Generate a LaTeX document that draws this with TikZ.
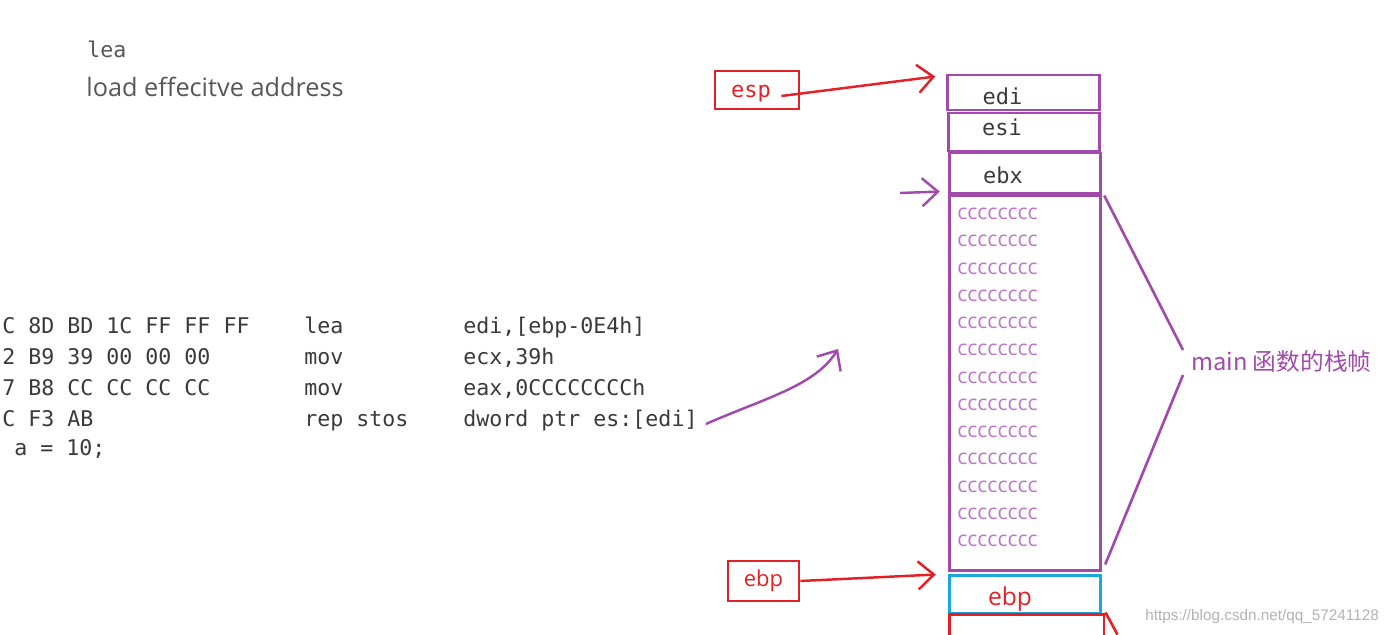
\documentclass[tikz,border=0pt]{standalone}
\usepackage{fontspec}
\setmainfont{Open Sans}
\setmonofont{DejaVu Sans Mono}
\newfontfamily\cjkfont{Noto Sans CJK SC}
\newfontfamily\markfont{Liberation Sans}
\usetikzlibrary{arrows.meta,calc}

\definecolor{stackpurple}{RGB}{162,74,172}
\definecolor{fillpurple}{RGB}{188,120,200}
\definecolor{pointred}{RGB}{226,32,38}
\definecolor{framecyan}{RGB}{28,166,222}
\definecolor{codegray}{RGB}{58,58,58}

\begin{document}
\begin{tikzpicture}[x=0.02cm,y=-0.02cm,
  code/.style={font=\ttfamily\fontsize{12.3}{14}\selectfont,text=codegray,anchor=west,inner sep=0pt,text height=1.6ex,text depth=0.4ex},
  cell/.style={draw=stackpurple,line width=1.7pt,minimum width=3.03cm,inner sep=0pt,font=\ttfamily\fontsize{12.5}{14}\selectfont,text=codegray,text depth=2pt},
  regbox/.style={draw=pointred,line width=1.5pt,inner sep=0pt,text=pointred},
  handarrow/.style={-{Straight Barb[length=9pt,width=16pt]},line width=1.4pt}]
  \clip (0,0) rectangle (1397,635);
  % notes at the top
  \node[code,text=codegray!85] (mnem) at (87,52) {lea};
  \node[anchor=west,inner sep=0pt,text=codegray!85,font=\fontsize{14.4}{16}\selectfont] (expl) at (86,87) {load effecitve address};
  % disassembly
  \foreach \hex/\mn/\op [count=\i] in {{C 8D BD 1C FF FF FF}/lea/{edi,[ebp-0E4h]},
      {2 B9 39 00 00 00}/mov/{ecx,39h},
      {7 B8 CC CC CC CC}/mov/{eax,0CCCCCCCCh},
      {C F3 AB}/{rep stos}/{dword ptr es:[edi]}} {
    \node[code] (hex\i) at (2,{297+31*\i}) {\hex};
    \node[code] (mn\i) at (304,{297+31*\i}) {\mn};
    \node[code] (op\i) at (463,{297+31*\i}) {\op};
  }
  \node[code] (src) at (14,450) {a = 10;};
  % stack
  \node[cell,minimum height=0.70cm,text height=15.2pt] (edi) at (1023.5,92.5) {edi\kern0.84cm};
  \node[cell,minimum height=0.76cm,text height=5.6pt] (esi) at (1024,132) {esi\kern0.88cm};
  \node[cell,minimum height=0.80cm,text height=13.6pt] (ebx) at (1025,173) {ebx\kern0.88cm};
  \node[cell,minimum height=7.52cm] (frame) at (1025,383) {};
  \foreach \i in {0,...,12}
    \node[anchor=west,inner sep=0pt,text=fillpurple,font=\fontsize{12}{14}\selectfont] at (957,{214+27.25*\i}) {cccccccc};
  \node[cell,draw=framecyan,minimum height=0.76cm,font=\fontsize{14}{16}\selectfont,text=pointred,text height=16pt,text depth=3pt] (ebpcell) at (1025,594) {ebp\kern0.6cm};
  \node[cell,draw=pointred,minimum width=3.1cm,minimum height=0.8cm] (retcell) at (1026.5,634) {};
  \draw[pointred,line width=1.5pt] (retcell.north east) -- ++(12,22);
  % registers
  \node[regbox,minimum width=1.68cm,minimum height=0.76cm,font=\ttfamily\fontsize{12.5}{14}\selectfont,text height=11pt,text depth=2pt] (esp) at (757,90) {esp\kern0.24cm};
  \node[regbox,minimum width=1.42cm,minimum height=0.80cm,font=\fontsize{12.5}{14}\selectfont] (ebp) at (763.5,581) {\raisebox{0.5ex}{ebp}};
  \draw[handarrow,pointred] ($(esp.east)+(-19,6)$) -- ($(edi.north west)+(-11,3)$);
  \draw[handarrow,pointred] (ebp.east) -- ($(ebpcell.north west)+(-12,1)$);
  \coordinate (fillstart) at (900,193);
  \draw[handarrow,stackpurple] (fillstart) -- ($(frame.north west)+(-8,-2)$);
  % main frame label
  \node[anchor=west,inner sep=0pt,text=stackpurple,font=\cjkfont\fontsize{13.5}{15}\selectfont] (mainlbl) at (1191,361) {main 函数的栈帧};
  \draw[stackpurple,line width=1.5pt] ($(frame.north east)+(2,2)$) -- ($(mainlbl.west)+(-8,-11)$);
  \draw[stackpurple,line width=1.5pt] ($(mainlbl.west)+(-8,14)$) -- ($(frame.south east)+(3,-8)$);
  % rep stos fills the frame
  \coordinate (curvetip) at (838,349);
  \draw[handarrow,stackpurple] ($(op4.east)+(8,3)$) .. controls (765,398) and (815,386) .. (curvetip);
  \node[anchor=west,inner sep=0pt,text=black!30,font=\markfont\fontsize{8.7}{10}\selectfont] (mark) at (1145,617) {https://blog.csdn.net/qq\_57241128};
\end{tikzpicture}
\end{document}
